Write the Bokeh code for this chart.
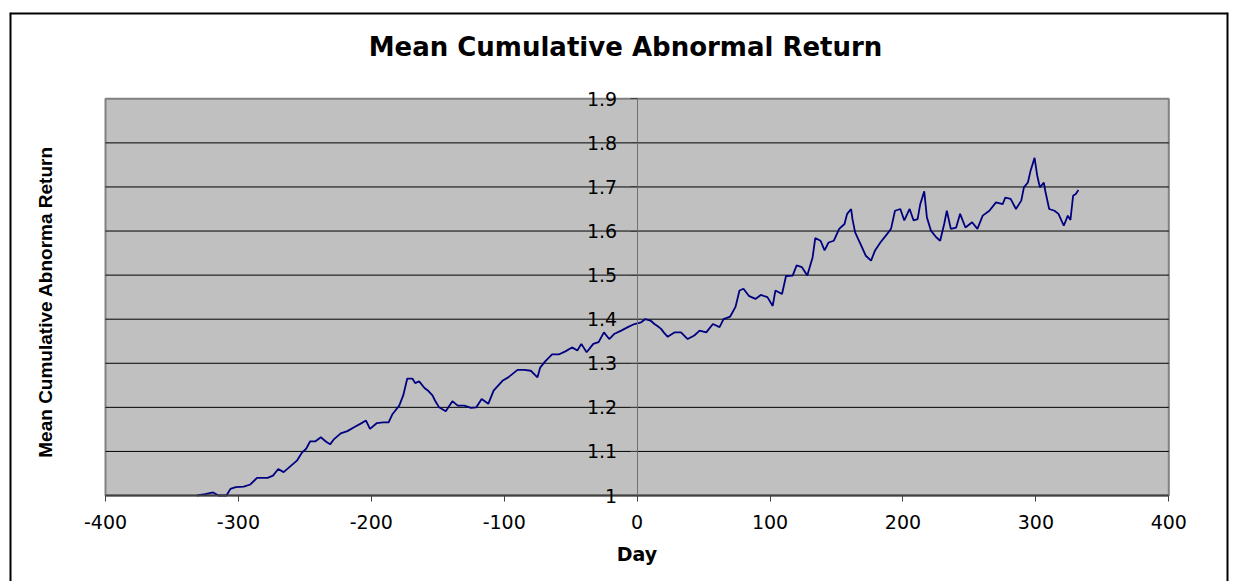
from bokeh.plotting import figure
from bokeh.models import Range1d, FixedTicker, Label, LinearAxis, Span
from bokeh.embed import file_html
from bokeh.resources import INLINE

# Day relative to event and mean cumulative abnormal return
days = [-331, -325, -319, -315, -309, -306, -302, -296, -291, -286, -282, -278, -274,
        -270, -266, -261, -256, -252, -249, -246, -242, -238, -234, -231, -228, -223, -218,
        -213, -208, -204, -201, -196, -191, -187, -184, -179, -176, -173, -169, -167, -164,
        -160, -157, -154, -152, -149, -144, -139, -135, -130, -125, -121, -117, -112, -108,
        -101, -97, -90, -85, -80, -75, -73, -69, -64, -59, -54, -49, -45, -42, -38, -33,
        -29, -25, -21, -17, -12, -7, -2, 3, 6, 10, 13, 15, 18, 20, 23, 28, 33, 38, 43, 47,
        52, 57, 62, 65, 70, 74, 77, 80, 84, 89, 93, 98, 102, 104, 109, 112, 117, 120, 124,
        128, 132, 134, 138, 141, 144, 148, 152, 156, 158, 161, 162, 164, 168, 172, 176, 179,
        183, 188, 191, 194, 198, 201, 205, 208, 211, 213, 216, 218, 221, 225, 228, 231, 233,
        236, 240, 243, 247, 252, 256, 260, 265, 270, 275, 277, 281, 285, 289, 291, 294, 296,
        299, 301, 303, 306, 307, 310, 314, 317, 321, 324, 326, 328, 330, 332]
car = [1.000, 1.003, 1.007, 1.000, 1.000, 1.015, 1.019, 1.020, 1.025, 1.040, 1.040,
       1.040, 1.045, 1.060, 1.053, 1.066, 1.079, 1.098, 1.106, 1.123, 1.123, 1.132, 1.122,
       1.116, 1.128, 1.141, 1.146, 1.155, 1.163, 1.170, 1.151, 1.164, 1.166, 1.166, 1.185,
       1.204, 1.227, 1.265, 1.265, 1.255, 1.259, 1.244, 1.237, 1.227, 1.215, 1.200, 1.191,
       1.214, 1.204, 1.204, 1.199, 1.200, 1.219, 1.208, 1.238, 1.261, 1.268, 1.285, 1.285,
       1.283, 1.268, 1.290, 1.305, 1.320, 1.320, 1.327, 1.336, 1.329, 1.344, 1.325, 1.344,
       1.348, 1.370, 1.355, 1.367, 1.374, 1.382, 1.389, 1.393, 1.400, 1.397, 1.389, 1.385,
       1.378, 1.370, 1.360, 1.370, 1.370, 1.355, 1.363, 1.374, 1.370, 1.389, 1.382, 1.400,
       1.406, 1.428, 1.465, 1.469, 1.453, 1.446, 1.455, 1.450, 1.430, 1.465, 1.457, 1.498,
       1.499, 1.522, 1.518, 1.499, 1.540, 1.584, 1.578, 1.556, 1.574, 1.578, 1.605, 1.616,
       1.639, 1.650, 1.627, 1.597, 1.571, 1.544, 1.533, 1.556, 1.574, 1.593, 1.605, 1.646,
       1.650, 1.624, 1.650, 1.624, 1.627, 1.661, 1.690, 1.631, 1.601, 1.586, 1.578, 1.616,
       1.646, 1.605, 1.608, 1.639, 1.608, 1.620, 1.605, 1.635, 1.646, 1.665, 1.661, 1.676,
       1.673, 1.650, 1.669, 1.699, 1.710, 1.737, 1.766, 1.726, 1.699, 1.710, 1.692, 1.650,
       1.646, 1.639, 1.612, 1.635, 1.625, 1.680, 1.684, 1.693]

x_ticks = [-400, -300, -200, -100, 0, 100, 200, 300, 400]
x_tick_labels = ["-400", "-300", "-200", "-100", "0", "100", "200", "300", "400"]
y_ticks = [1.0, 1.1, 1.2, 1.3, 1.4, 1.5, 1.6, 1.7, 1.8, 1.9]
y_tick_labels = ["1", "1.1", "1.2", "1.3", "1.4", "1.5", "1.6", "1.7", "1.8", "1.9"]
grid_ticks = [1.1, 1.2, 1.3, 1.4, 1.5, 1.6, 1.7, 1.8]

title_text = "Mean Cumulative Abnormal Return"
x_title = "Day"
y_title = "Mean Cumulative Abnorma Return"

# ---- layout (pixel geometry of the chart area) ----
W, H = 1236, 581
FR_L, FR_T, FR_R, FR_B = 9, 12, 1228, 581          # outer chart frame in pixels
PA_L, PA_R, PA_T, PA_B = 105.0, 1168.3, 98.3, 495.0  # plot area in pixels
x_lo, x_hi = x_ticks[0], x_ticks[-1]
y_lo, y_hi = y_ticks[0], y_ticks[-1]
sx = (PA_R - PA_L) / (x_hi - x_lo)
sy = (PA_B - PA_T) / (y_hi - y_lo)


def px_to_x(px):
    return x_lo + (px - PA_L) / sx


def px_to_y(py):
    return y_lo + (PA_B - py) / sy


p = figure(width=W, height=H, output_backend="svg", toolbar_location=None,
           x_range=Range1d(px_to_x(FR_L), px_to_x(FR_R)),
           y_range=Range1d(px_to_y(FR_B), px_to_y(FR_T)),
           x_axis_location=None, y_axis_location=None,
           min_border_left=FR_L, min_border_right=W - FR_R,
           min_border_top=FR_T, min_border_bottom=H - FR_B)
p.background_fill_color = "white"
p.border_fill_color = "white"
p.outline_line_color = None
for g in p.grid:
    g.visible = False

# outer chart border
for loc in (px_to_x(FR_L), px_to_x(FR_R)):
    p.add_layout(Span(location=loc, dimension="height", line_color="black", line_width=4))
p.add_layout(Span(location=px_to_y(FR_T), dimension="width", line_color="black", line_width=4))

# plot area
p.quad(left=[x_lo], right=[x_hi], bottom=[y_lo], top=[y_hi],
       fill_color="#C0C0C0", line_color="#808080", line_width=2)
p.segment(x0=[x_lo] * len(grid_ticks), x1=[x_hi] * len(grid_ticks),
          y0=grid_ticks, y1=grid_ticks, line_color="black", line_width=1)

p.line(days, car, line_color="#000080", line_width=1.8)

# X axis along y = 1
xa = LinearAxis(fixed_location=y_lo, bounds=(x_lo, x_hi))
xa.ticker = FixedTicker(ticks=x_ticks)
xa.major_label_overrides = {t: l for t, l in zip(x_ticks, x_tick_labels)}
xa.axis_line_color = "#404040"
xa.axis_line_width = 2
xa.major_tick_line_color = "#404040"
xa.major_tick_out = 6
xa.major_tick_in = 0
xa.minor_tick_line_color = None
xa.major_label_text_font = "DejaVu Sans"
xa.major_label_text_font_size = "19px"
xa.major_label_text_color = "black"
xa.major_label_standoff = 13
xa.axis_label = x_title
xa.axis_label_text_font = "DejaVu Sans"
xa.axis_label_text_font_size = "19px"
xa.axis_label_text_font_style = "bold"
xa.axis_label_text_color = "black"
xa.axis_label_standoff = 11
p.add_layout(xa, "below")

# Y axis along day 0
ya = LinearAxis(fixed_location=0, bounds=(y_lo, y_hi))
ya.ticker = FixedTicker(ticks=y_ticks)
ya.major_label_overrides = {t: l for t, l in zip(y_ticks, y_tick_labels)}
ya.axis_line_color = "#707070"
ya.axis_line_width = 1
ya.major_tick_line_color = "#404040"
ya.major_tick_out = 7
ya.major_tick_in = 0
ya.minor_tick_line_color = None
ya.major_label_text_font = "DejaVu Sans"
ya.major_label_text_font_size = "19px"
ya.major_label_text_color = "black"
ya.major_label_standoff = 13
p.add_layout(ya, "left")

# Title and y title
p.add_layout(Label(x=px_to_x(625), y=px_to_y(46), text=title_text,
                   text_align="center", text_baseline="middle",
                   text_font="DejaVu Sans", text_font_size="26px",
                   text_font_style="bold", text_color="black"))
p.add_layout(Label(x=px_to_x(45), y=px_to_y(301.5), text=y_title,
                   angle=90, angle_units="deg", text_align="center", text_baseline="middle",
                   text_font="Liberation Sans", text_font_size="19px",
                   text_font_style="bold", text_color="black"))

open("out.html", "w").write(file_html(p, INLINE))
